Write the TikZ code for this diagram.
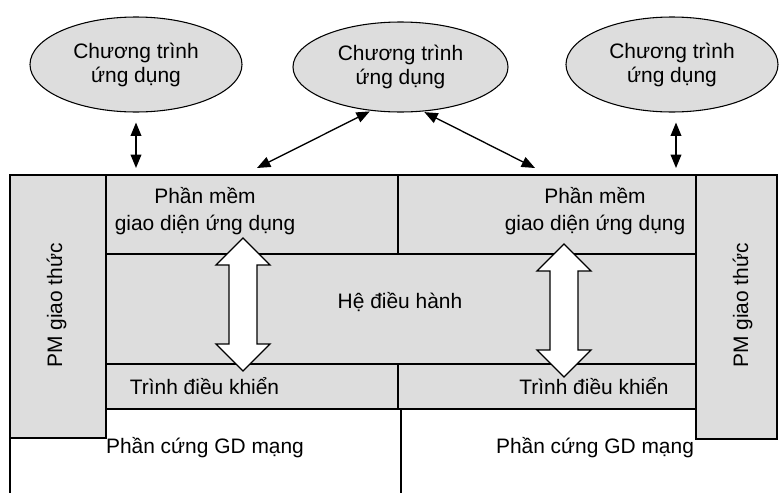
\documentclass[tikz,border=0pt]{standalone}
\usepackage{fontspec}
\setmainfont{Liberation Sans}
\usetikzlibrary{arrows.meta}
\usetikzlibrary{shapes.geometric}

\begin{document}
\begin{tikzpicture}[
    >={Triangle[length=10pt,width=8pt]},
    line join=miter,
    font=\fontsize{15.7}{19}\selectfont,
    x=0.75pt,
    y=-0.75pt
]

% =========================================================
% Colors
% =========================================================
\definecolor{layergray}{RGB}{221,221,221}

% =========================================================
% Styles
% =========================================================
\tikzset{
    layer/.style={draw,fill=layergray,line width=1.2pt},
    wire/.style={line width=1.2pt},
    app/.style={ellipse,draw,fill=layergray,line width=0.8pt,
        inner sep=0pt,align=center,
        font=\fontsize{15.7}{18}\selectfont},
    label/.style={inner sep=0pt,anchor=base},
    sidelabel/.style={inner sep=0pt,anchor=base west,rotate=90},
    link/.style={<->,line width=1pt},
    bigarrow/.style={draw,fill=white,line width=1pt}
}

\useasboundingbox (0,0) rectangle (779,493);

% =========================================================
% Layers
% =========================================================
\draw[layer] (10,175) rectangle (106,438);   % protocol, left
\draw[layer] (696,175) rectangle (777,439);  % protocol, right
\draw[layer] (106,175) rectangle (398,254);  % api, left
\draw[layer] (398,175) rectangle (696,254);  % api, right
\draw[layer] (106,254) rectangle (696,364);  % operating system
\draw[layer] (106,364) rectangle (398,409);  % driver, left
\draw[layer] (398,364) rectangle (696,409);  % driver, right

% hardware
\draw[wire] (10,438) -- (10,493);
\draw[wire] (401,409) -- (401,493);

% =========================================================
% Application programs
% =========================================================
\node[app,minimum width=159pt,minimum height=71.25pt]
    (appL) at (136,64.5) {Chương trình\\ứng dụng};
\node[app,minimum width=161.25pt,minimum height=67.5pt]
    (appM) at (400.5,67) {Chương trình\\ứng dụng};
\node[app,minimum width=159pt,minimum height=71.25pt]
    (appR) at (672,64.5) {Chương trình\\ứng dụng};

% connector ends on the top layer
\coordinate (tL) at (136,175);
\coordinate (tR) at (676,175);
\coordinate (dL) at (257,168);
\coordinate (dR) at (535,168);

\draw[link,shorten <=7.5pt,shorten >=5.25pt] (tL |- appL.south) -- (tL);
\draw[link,shorten <=7.5pt,shorten >=5.25pt] (tR |- appR.south) -- (tR);
\draw[link,shorten <=1pt] (appM.236) -- (dL);
\draw[link,shorten <=1pt] (appM.297) -- (dR);

% =========================================================
% Block arrows: api <-> driver
% =========================================================
\foreach \c/\t/\b in {243/238/371, 564/244/377}
    \draw[bigarrow] (\c,\t) -- ++(27,27) -- ++(-13,0)
        -- (\c+14,\b-27) -- ++(13,0) -- (\c,\b) -- ++(-27,-27)
        -- ++(13,0) -- (\c-14,\t+27) -- ++(-13,0) -- cycle;

% =========================================================
% Labels
% =========================================================
\node[label] (apiLa) at (205,203) {Phần mềm};
\node[label] (apiLb) at (205,230) {giao diện ứng dụng};
\node[label] (apiRa) at (595,203) {Phần mềm};
\node[label] (apiRb) at (595,230) {giao diện ứng dụng};
\node[label] (os) at (400,308) {Hệ điều hành};
\node[label] (drvL) at (204.5,394) {Trình điều khiển};
\node[label] (drvR) at (594,394) {Trình điều khiển};
\node[label] (hwL) at (205,453) {Phần cứng GD mạng};
\node[label] (hwR) at (595,453) {Phần cứng GD mạng};
\node[sidelabel] (pmL) at (62,368) {PM giao thức};
\node[sidelabel] (pmR) at (748,368) {PM giao thức};

\end{tikzpicture}
\end{document}
